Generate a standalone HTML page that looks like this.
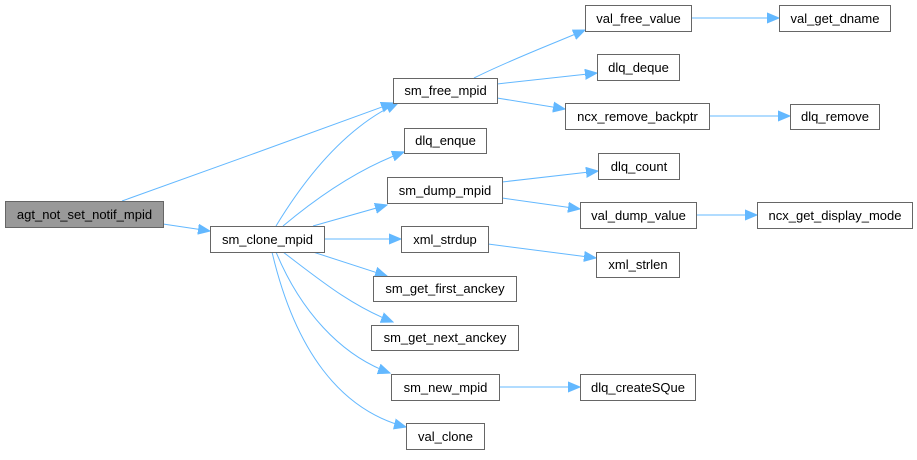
<!DOCTYPE html>
<html><head><meta charset="utf-8"><style>
html,body{margin:0;padding:0;background:#fff;}
svg text{font-family:"Liberation Sans",Arial,sans-serif;font-size:13px;fill:#000;}
</style></head><body>
<svg width="917" height="455" viewBox="0 0 917 455" xmlns="http://www.w3.org/2000/svg">
<defs><marker id="a" markerWidth="13" markerHeight="11" refX="12" refY="5.5" orient="auto" markerUnits="userSpaceOnUse"><path d="M0,0.5 L12,5.5 L0,10.5 z" fill="#63b8ff" stroke="#63b8ff"/></marker></defs>
<g fill="none" stroke="#63b8ff" stroke-width="1" marker-end="url(#a)">
<path d="M122,201 C200,173 320,130 393,103"/>
<path d="M163,224 L210,231"/>
<path d="M276,226 C310,170 350,125 398,103"/>
<path d="M283,226 C320,195 360,168 404,152"/>
<path d="M313,226 L387,205"/>
<path d="M324,239 L401,239"/>
<path d="M313,252 L387,276"/>
<path d="M283,252 C320,280 350,305 393,322"/>
<path d="M276,252 C300,310 340,355 390,373"/>
<path d="M272,252 C295,350 340,410 406,427"/>
<path d="M474,78 C510,60 550,45 585,30"/>
<path d="M497,84 L597,73"/>
<path d="M497,98 L565,109"/>
<path d="M691,18 L779,18"/>
<path d="M709,116 L790,116"/>
<path d="M502,182 L598,171"/>
<path d="M502,198 L580,209"/>
<path d="M696,215 L757,215"/>
<path d="M488,244 L596,258"/>
<path d="M499,387 L580,387"/>
</g>
<g stroke="#666" stroke-width="1" fill="#fff">
<rect x="5.5" y="201.5" width="158" height="26" fill="#999"/>
<rect x="210.5" y="226.5" width="114" height="26"/>
<rect x="393.5" y="78.5" width="104" height="25"/>
<rect x="404.5" y="128.5" width="82" height="25"/>
<rect x="387.5" y="177.5" width="115" height="26"/>
<rect x="401.5" y="226.5" width="87" height="26"/>
<rect x="373.5" y="276.5" width="143" height="25"/>
<rect x="371.5" y="325.5" width="147" height="25"/>
<rect x="391.5" y="374.5" width="108" height="26"/>
<rect x="406.5" y="423.5" width="78" height="26"/>
<rect x="585.5" y="5.5" width="106" height="26"/>
<rect x="779.5" y="5.5" width="111" height="26"/>
<rect x="597.5" y="54.5" width="82" height="26"/>
<rect x="565.5" y="103.5" width="144" height="26"/>
<rect x="790.5" y="104.5" width="89" height="25"/>
<rect x="598.5" y="153.5" width="81" height="26"/>
<rect x="580.5" y="202.5" width="116" height="26"/>
<rect x="757.5" y="202.5" width="155" height="26"/>
<rect x="596.5" y="252.5" width="83" height="25"/>
<rect x="580.5" y="374.5" width="115" height="26"/>
</g>
<g text-anchor="middle">
<text x="84.5" y="219">agt_not_set_notif_mpid</text>
<text x="267.5" y="244">sm_clone_mpid</text>
<text x="445.5" y="95">sm_free_mpid</text>
<text x="445.5" y="145">dlq_enque</text>
<text x="445" y="195">sm_dump_mpid</text>
<text x="445" y="244">xml_strdup</text>
<text x="445" y="293">sm_get_first_anckey</text>
<text x="445" y="342">sm_get_next_anckey</text>
<text x="445.5" y="392">sm_new_mpid</text>
<text x="445.5" y="441">val_clone</text>
<text x="638.5" y="23">val_free_value</text>
<text x="835" y="23">val_get_dname</text>
<text x="638.5" y="72">dlq_deque</text>
<text x="637.5" y="121">ncx_remove_backptr</text>
<text x="835" y="121">dlq_remove</text>
<text x="639" y="171">dlq_count</text>
<text x="638.5" y="220">val_dump_value</text>
<text x="835" y="220">ncx_get_display_mode</text>
<text x="638" y="269">xml_strlen</text>
<text x="638" y="392">dlq_createSQue</text>
</g>
</svg>
</body></html>
